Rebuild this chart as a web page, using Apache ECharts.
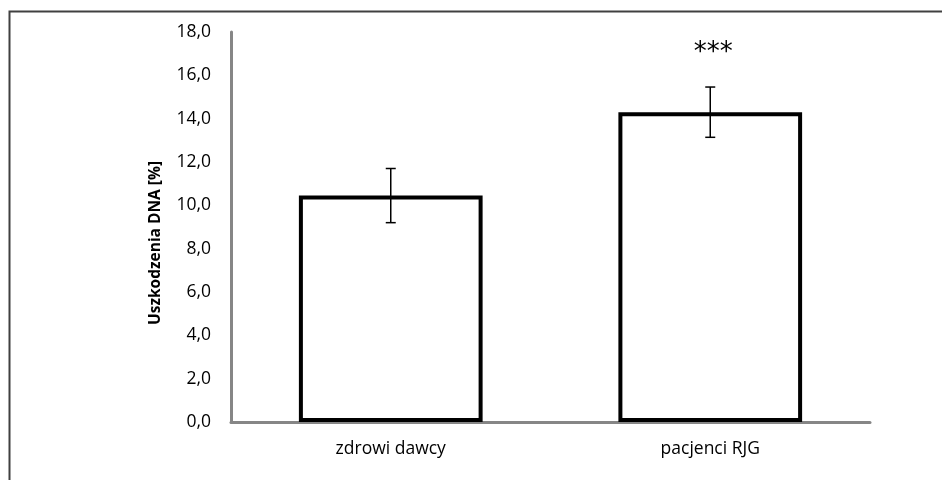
<!DOCTYPE html>
<html>
<head>
<meta charset="utf-8">
<script src="https://cdn.jsdelivr.net/npm/echarts@6/dist/echarts.min.js"></script>
<style>
html,body{margin:0;padding:0;background:#fff;}
#c{width:942px;height:480px;}
</style>
</head>
<body>
<div id="c"></div>
<script>
var categories = ['zdrowi dawcy', 'pacjenci RJG'];
var values = [10.45, 14.3];
var errors = [1.25, 1.16];
var sigLabels = ['', '***'];
var yTicks = [0, 2, 4, 6, 8, 10, 12, 14, 16, 18];

var chart = echarts.init(document.getElementById('c'), null, {renderer: 'canvas'});
var FONT = '"Open Sans", "Noto Sans", sans-serif';

chart.setOption({
  animation: false,
  backgroundColor: '#fff',
  graphic: [{
    type: 'rect', left: 7, top: 9, z: 100,
    shape: {width: 1000, height: 1000},
    style: {fill: 'none', stroke: '#404040', lineWidth: 2}
  }],
  grid: {left: 231, top: 32, right: 72, bottom: 58, containLabel: false},
  xAxis: {
    type: 'category',
    data: categories,
    axisLine: {show: true, lineStyle: {color: '#868686', width: 3}},
    axisTick: {show: false},
    axisLabel: {color: '#000', fontSize: 17.5, fontFamily: FONT, margin: 18}
  },
  yAxis: {
    type: 'value',
    min: yTicks[0],
    max: yTicks[yTicks.length - 1],
    interval: 2,
    name: 'Uszkodzenia DNA [%]',
    nameLocation: 'middle',
    nameGap: 67,
    nameTextStyle: {color: '#000', fontSize: 15.5, fontWeight: 'bold', fontFamily: FONT, padding: [0, 32, 0, 0]},
    axisLine: {show: true, lineStyle: {color: '#868686', width: 3}},
    axisTick: {show: false},
    splitLine: {show: false},
    axisLabel: {
      color: '#000', fontSize: 17.5, fontFamily: FONT, margin: 20,
      formatter: function (v) { return v.toFixed(1).replace('.', ','); }
    }
  },
  series: [{
    type: 'bar',
    data: values,
    barWidth: '57.5%',
    itemStyle: {color: '#fff', borderColor: '#000', borderWidth: 4},
    z: 1
  }, {
    type: 'custom',
    z: 5,
    data: values.map(function (v, i) { return [i, v, errors[i]]; }),
    renderItem: function (params, api) {
      var x = api.value(0), v = api.value(1), e = api.value(2);
      var top = api.coord([x, v + e]);
      var bot = api.coord([x, v - e]);
      var cap = 5;
      var children = [
        {type: 'line', shape: {x1: top[0], y1: top[1], x2: bot[0], y2: bot[1]}, style: {stroke: '#000', lineWidth: 1.5}},
        {type: 'line', shape: {x1: top[0] - cap, y1: top[1], x2: top[0] + cap, y2: top[1]}, style: {stroke: '#000', lineWidth: 1.5}},
        {type: 'line', shape: {x1: bot[0] - cap, y1: bot[1], x2: bot[0] + cap, y2: bot[1]}, style: {stroke: '#000', lineWidth: 1.5}}
      ];
      var lab = sigLabels[params.dataIndex];
      if (lab) {
        children.push({type: 'text', style: {
          text: lab, x: top[0] + 3, y: top[1] - 34,
          fill: '#000', font: '26px "DejaVu Sans", sans-serif', align: 'center', verticalAlign: 'middle'
        }});
      }
      return {type: 'group', children: children};
    }
  }]
});
</script>
</body>
</html>
